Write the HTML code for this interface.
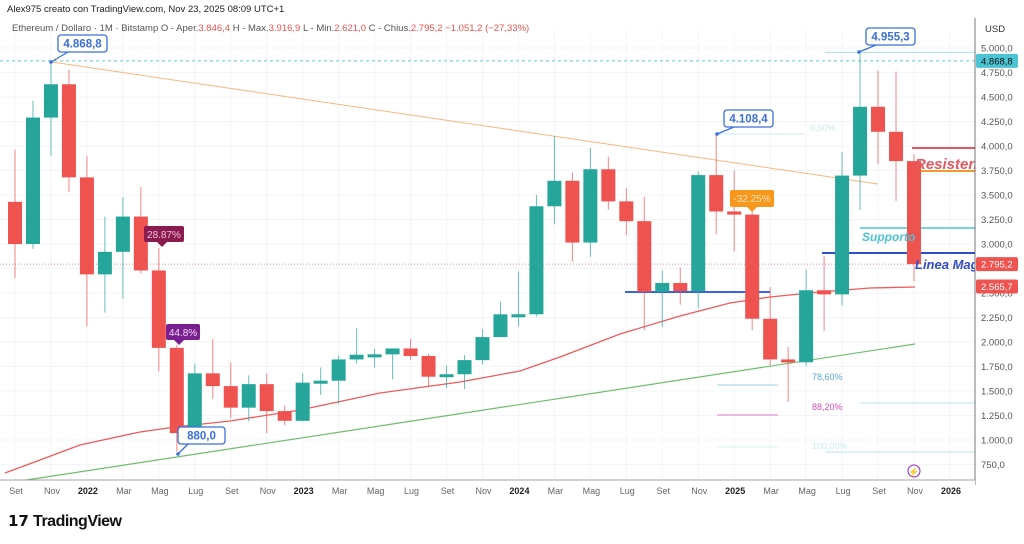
<!DOCTYPE html>
<html><head><meta charset="utf-8"><style>
body{margin:0;background:#fff;font-family:"Liberation Sans",sans-serif}
svg text{font-family:"Liberation Sans",sans-serif}
</style></head><body>
<svg id="s" width="1024" height="539" xmlns="http://www.w3.org/2000/svg"></svg>
<script>
const s=document.getElementById('s');let h='';
const Y=p=>48+(5000-p)*0.098;const X=i=>15+17.98*i;
for(let p=750;p<=5000;p+=250)h+=`<line x1="0" x2="975" y1="${Y(p)}" y2="${Y(p)}" stroke="#f2f4f8"/>`;
for(let i=0;i<54;i+=2)h+=`<line x1="${X(i)}" x2="${X(i)}" y1="30" y2="480" stroke="#f2f4f8"/>`;
h+=`<line x1="0" x2="975" y1="${Y(4868.8)}" y2="${Y(4868.8)}" stroke="#5fc8d6" stroke-dasharray="3,3"/>`;
h+=`<line x1="0" x2="975" y1="${Y(2795.2)}" y2="${Y(2795.2)}" stroke="#f28b8b" stroke-dasharray="1,2"/>`;
h+=`<line x1="825" x2="975" y1="${Y(4955)}" y2="${Y(4955)}" stroke="#a8e0ea"/>`;
h+=`<line x1="717" x2="805" y1="134" y2="134" stroke="#c8ecf2"/><text x="810" y="131" font-size="9" fill="#c8ecf2">0,00%</text>`;
h+=`<line x1="717" x2="778" y1="385" y2="385" stroke="#9fd3e6"/><text x="812" y="380" font-size="9" fill="#5aa9d6">78,60%</text>`;
h+=`<line x1="717" x2="778" y1="415" y2="415" stroke="#e07ac8"/><text x="812" y="410" font-size="9" fill="#d04fb4">88,20%</text>`;
h+=`<line x1="717" x2="778" y1="447" y2="447" stroke="#d8f0f4"/><text x="812" y="449" font-size="9" fill="#c8ecf2">100,00%</text>`;
h+=`<line x1="860" x2="975" y1="403" y2="403" stroke="#b8e4ec"/><line x1="825" x2="975" y1="452" y2="452" stroke="#b8e4ec"/>`;
h+=`<polyline fill="none" stroke="#f7b97a" stroke-width="1" points="52,62 878,184"/>`;
h+=`<polyline fill="none" stroke="#6cbf6c" stroke-width="1.2" points="20,481 915,344"/>`;
h+=`<polyline fill="none" stroke="#ef5a5a" stroke-width="1.3" points="5,473 40,460 80,445 140,432 175,427 230,421 300,410 380,393 460,382 520,371 560,357 620,334 680,316 730,303 770,297 820,292 870,288 915,287"/>`;
h+=`<line x1="625" x2="770" y1="292" y2="292" stroke="#3b62d9" stroke-width="2"/>`;
h+=`<line x1="912" x2="975" y1="148" y2="148" stroke="#e5575f" stroke-width="2"/>`;
h+=`<line x1="920" x2="975" y1="171" y2="171" stroke="#f29a2e" stroke-width="2"/>`;
h+=`<line x1="860" x2="975" y1="228" y2="228" stroke="#4cc4d4" stroke-width="1.5"/>`;
h+=`<line x1="822" x2="975" y1="253" y2="253" stroke="#2f4fc9" stroke-width="2"/>`;
const d=[[3430,3960,2650,3000],[3000,4460,2950,4290],[4290,4868,3900,4630],[4630,4780,3530,3680],[3680,3900,2160,2690],[2690,3280,2300,2920],[2920,3480,2440,3280],[3280,3580,2700,2730],[2730,2960,1700,1940],[1940,1970,880,1070],[1070,1780,1000,1680],[1680,2030,1420,1550],[1550,1790,1220,1330],[1330,1660,1190,1570],[1570,1680,1070,1295],[1295,1350,1150,1196],[1196,1680,1190,1585],[1585,1740,1460,1605],[1605,1860,1370,1822],[1822,2140,1780,1870],[1870,1930,1740,1874],[1874,1930,1620,1934],[1934,2030,1820,1857],[1857,1880,1540,1646],[1646,1760,1530,1671],[1671,1865,1520,1815],[1815,2130,1770,2050],[2050,2410,2050,2282],[2282,2720,2160,2283],[2283,3500,2260,3385],[3385,4100,3200,3645],[3645,3730,2820,3015],[3015,3980,2870,3763],[3763,3890,3350,3435],[3435,3570,3090,3233],[3233,3480,2120,2513],[2513,2730,2150,2602],[2602,2760,2380,2518],[2518,3740,2350,3703],[3703,4108,3100,3332],[3332,3750,2925,3300],[3300,3440,2120,2237],[2237,2560,1760,1822],[1822,1950,1390,1793],[1793,2740,1750,2528],[2528,2880,2110,2486],[2486,3940,2370,3698],[3698,4955,3350,4400],[4400,4770,3815,4145],[4145,4760,3440,3846],[3846,3916,2621,2795]];
d.forEach((c,i)=>{const[o,hi,lo,cl]=c;const up=cl>=o;const col=up?'#26a69a':'#ef5350';const x=X(i);
h+=`<line x1="${x}" x2="${x}" y1="${Y(hi)}" y2="${Y(lo)}" stroke="${col}" stroke-opacity="0.7"/>`;
const t=Y(Math.max(o,cl)),b=Y(Math.min(o,cl));h+=`<rect x="${x-7}" y="${t}" width="14" height="${Math.max(b-t,3)}" fill="${col}"/>`;});
function call(x,y,w,t,tx,ty){h+=`<line x1="${tx}" x2="${x+10}" y1="${ty}" y2="${y+17}" stroke="#3b6fd9" stroke-width="1.3"/><circle cx="${tx}" cy="${ty}" r="1.8" fill="#3b6fd9"/><rect x="${x}" y="${y}" width="${w}" height="17" rx="3" fill="#fff" stroke="#3b6fd9" stroke-width="1.3"/><text x="${x+w/2}" y="${y+12.5}" font-size="11.5" font-weight="bold" fill="#3b6fd9" text-anchor="middle">${t}</text>`;}
call(58,35,49,'4.868,8',51,62);call(866,28,49,'4.955,3',859,52);call(724,110,49,'4.108,4',717,134);call(178,427,47,'880,0',178,454);
h+=`<rect x="144" y="226" width="40" height="16" rx="2" fill="#8b1a4f"/><path d="M157 242 L162 247 L167 242Z" fill="#8b1a4f"/><text x="164" y="238" font-size="10" fill="#f0c0d8" text-anchor="middle">28.87%</text>`;
h+=`<rect x="166" y="324" width="34" height="16" rx="2" fill="#7a1f8f"/><path d="M174 340 L179 345 L184 340Z" fill="#7a1f8f"/><text x="183" y="336" font-size="10" fill="#f0d8f8" text-anchor="middle">44.8%</text>`;
h+=`<rect x="730" y="190" width="44" height="17" rx="2" fill="#f7981d"/><path d="M747 207 L752 212 L757 207Z" fill="#f7981d"/><text x="752" y="202" font-size="10" fill="#ffe2b8" text-anchor="middle">-32.25%</text>`;
h+=`<text x="915" y="169" font-size="15" font-weight="bold" font-style="italic" fill="#e5575f">Resistenza</text>`;
h+=`<text x="862" y="241" font-size="12" font-weight="bold" font-style="italic" fill="#4cc4d4">Supporto</text>`;
h+=`<text x="915" y="269" font-size="13" font-weight="bold" font-style="italic" fill="#2f4fc9">Linea Mag</text>`;
h+=`<rect x="975" y="0" width="49" height="539" fill="#fff"/><line x1="975" x2="975" y1="18" y2="485" stroke="#555" stroke-width="0.8"/>`;
h+=`<rect x="0" y="480" width="975" height="59" fill="#fff"/><line x1="0" x2="975" y1="480" y2="480" stroke="#888" stroke-width="0.8"/>`;
h+=`<text x="985" y="32" font-size="9.5" fill="#333">USD</text>`;
for(let p=750;p<=5000;p+=250){if(p==2750)continue;h+=`<text x="981" y="${Y(p)+3.5}" font-size="9.5" fill="#555">${(p>=1000?Math.floor(p/1000)+'.'+String(p%1000).padStart(3,'0'):p)},0</text>`;}
function tag(p,t,c){const y=Y(p);h+=`<rect x="976" y="${y-7}" width="42" height="14" rx="2" fill="${c}"/><text x="981" y="${y+3.5}" font-size="9.5" fill="${c=='#4cc4d4'?'#111':'#fff'}">${t}</text>`;}
tag(4868.8,'4.868,8','#4cc4d4');tag(2795.2,'2.795,2','#ef5350');tag(2565.7,'2.565,7','#ef5350');
const m=['Set','Nov','2022','Mar','Mag','Lug','Set','Nov','2023','Mar','Mag','Lug','Set','Nov','2024','Mar','Mag','Lug','Set','Nov','2025','Mar','Mag','Lug','Set','Nov','2026'];
m.forEach((t,k)=>{const b=/^20/.test(t);h+=`<text x="${X(k*2)+1}" y="494" font-size="9" text-anchor="middle" fill="${b?'#222':'#666'}" font-weight="${b?'bold':'normal'}">${t}</text>`;});
h+=`<circle cx="914" cy="471" r="6" fill="none" stroke="#9c27b0"/><text x="914" y="475" font-size="9" fill="#9c27b0" text-anchor="middle">⚡</text>`;
h+=`<text x="7" y="12" font-size="9.5" fill="#222">Alex975 creato con TradingView.com, Nov 23, 2025 08:09 UTC+1</text>`;
h+=`<text x="12" y="31" font-size="9.5" fill="#555">Ethereum / Dollaro · 1M · Bitstamp  O - Aper.<tspan fill="#ef5350">3.846,4</tspan>  H - Max.<tspan fill="#ef5350">3.916,9</tspan>  L - Min.<tspan fill="#ef5350">2.621,0</tspan>  C - Chius.<tspan fill="#ef5350">2.795,2  −1.051,2 (−27,33%)</tspan></text>`;
h+=`<text x="8" y="526" font-size="15" font-weight="bold" fill="#111">𝟭𝟳 <tspan font-size="16" letter-spacing="-0.5">TradingView</tspan></text>`;
s.innerHTML=h;
</script>
</body></html>
